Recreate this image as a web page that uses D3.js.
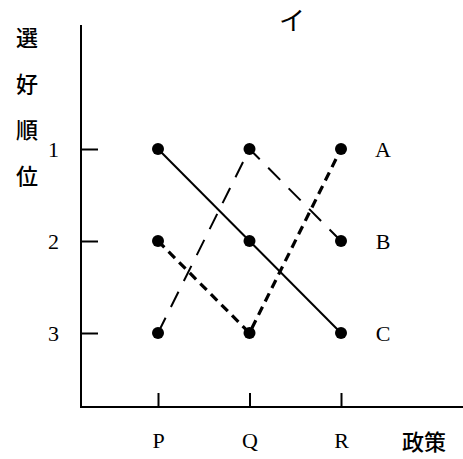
<!DOCTYPE html>
<html>
<head>
<meta charset="utf-8">
<script src="https://cdn.jsdelivr.net/npm/d3@7"></script>
<style>
  body { margin: 0; background: #fff; }
  svg { display: block; }
</style>
</head>
<body>
<svg width="463" height="459"></svg>
<script>
// policies on the x axis, preference ranks on the y axis
var policies = ["P", "Q", "R"];
var ranks = [1, 2, 3];
var voters = ["A", "B", "C"];
// rank each voter gives to P, Q, R
var rankA = [2, 3, 1];
var rankB = [3, 1, 2];
var rankC = [1, 2, 3];
var yLabel = ["選", "好", "順", "位"];

var svg = d3.select("svg");
var serif = "'Liberation Serif', 'DejaVu Serif', serif";
var jp = "'Noto Sans CJK JP', sans-serif";

var x = d3.scalePoint().domain(policies).range([158, 341]);
var y = d3.scaleLinear().domain([1, 3]).range([149, 333]);

// axis lines
svg.append("line").attr("x1", 81).attr("x2", 81).attr("y1", 25).attr("y2", 408)
  .attr("stroke", "#000").attr("stroke-width", 2);
svg.append("line").attr("x1", 80).attr("x2", 463).attr("y1", 407).attr("y2", 407)
  .attr("stroke", "#000").attr("stroke-width", 2);

var yAxis = svg.append("g")
  .attr("transform", "translate(81,0)")
  .call(d3.axisLeft(y).tickValues(ranks).tickSize(-17).tickPadding(22).tickFormat(d3.format("d")));
yAxis.select(".domain").remove();
yAxis.selectAll("line").attr("stroke-width", 2);
yAxis.selectAll("text").attr("font-family", serif).attr("font-size", 22).attr("fill", "#000");

var xAxis = svg.append("g")
  .attr("transform", "translate(0,407)")
  .call(d3.axisBottom(x).tickSize(-14).tickPadding(25));
xAxis.select(".domain").remove();
xAxis.selectAll("line").attr("stroke-width", 2);
xAxis.selectAll("text").attr("font-family", serif).attr("font-size", 22).attr("fill", "#000");

// lines for each voter
var series = [
  { name: "A", values: rankA, dash: "9,6", width: 3.2 },
  { name: "B", values: rankB, dash: "17,12", width: 2 },
  { name: "C", values: rankC, dash: null, width: 2 }
];

var line = d3.line()
  .x(function(d, i) { return x(policies[i]); })
  .y(function(d) { return y(d); });

series.forEach(function(s) {
  svg.append("path")
    .datum(s.values)
    .attr("fill", "none")
    .attr("stroke", "#000")
    .attr("stroke-width", s.width)
    .attr("stroke-dasharray", s.dash)
    .attr("d", line);
});

series.forEach(function(s) {
  svg.selectAll(null)
    .data(s.values)
    .enter().append("circle")
    .attr("cx", function(d, i) { return x(policies[i]); })
    .attr("cy", function(d) { return y(d); })
    .attr("r", 6)
    .attr("fill", "#000");
});

// voter labels at the right end
series.forEach(function(s) {
  svg.append("text")
    .attr("x", x("R") + 42)
    .attr("y", y(s.values[2]))
    .attr("dy", "0.35em")
    .attr("text-anchor", "middle")
    .attr("font-family", serif)
    .attr("font-size", 22)
    .text(s.name);
});

// y axis title, written vertically
svg.selectAll(".ylab")
  .data(yLabel)
  .enter().append("text")
  .attr("x", 27)
  .attr("y", function(d, i) { return 38 + i * 46; })
  .attr("dy", "0.35em")
  .attr("text-anchor", "middle")
  .attr("font-family", jp)
  .attr("font-weight", 500)
  .attr("font-size", 22)
  .text(function(d) { return d; });

svg.append("text")
  .attr("x", 424).attr("y", 442).attr("dy", "0.35em")
  .attr("text-anchor", "middle")
  .attr("font-family", jp).attr("font-weight", 500).attr("font-size", 22)
  .text("政策");

svg.append("text")
  .attr("x", 292).attr("y", 21).attr("dy", "0.35em")
  .attr("text-anchor", "middle")
  .attr("font-family", jp).attr("font-size", 26)
  .text("イ");
</script>
</body>
</html>
